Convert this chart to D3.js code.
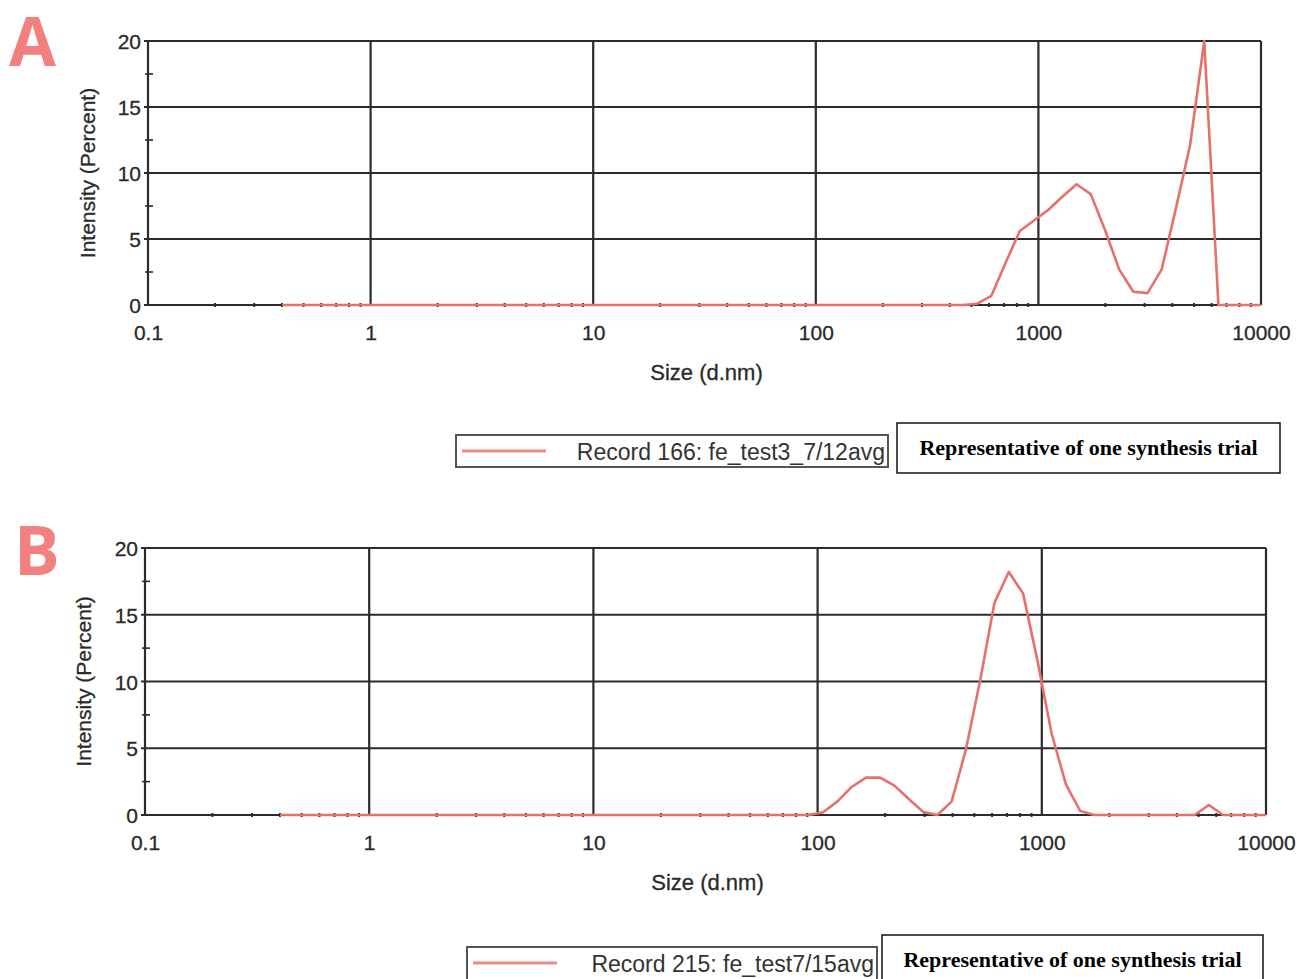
<!DOCTYPE html>
<html>
<head>
<meta charset="utf-8">
<script src="https://cdn.jsdelivr.net/npm/d3@7"></script>
<style>
  body { margin: 0; background: #fff; }
  svg { display: block; }
</style>
</head>
<body>
<svg id="chart"></svg>
<script>
const width = 1299;
const height = 979;

// size classes (d.nm) of the instrument
const sizes = [
  0.4, 0.4632, 0.5365, 0.6213, 0.7195, 0.8332, 0.9649, 1.117, 1.294, 1.499,
  1.736, 2.010, 2.328, 2.696, 3.122, 3.615, 4.187, 4.849, 5.615, 6.503,
  7.531, 8.721, 10.10, 11.70, 13.54, 15.69, 18.17, 21.04, 24.36, 28.21,
  32.67, 37.84, 43.82, 50.75, 58.77, 68.06, 78.82, 91.28, 105.7, 122.4,
  141.8, 164.2, 190.1, 220.2, 255.0, 295.3, 342.0, 396.1, 458.7, 531.2,
  615.1, 712.4, 825.0, 955.4, 1106, 1281, 1484, 1718, 1990, 2305,
  2669, 3091, 3580, 4145, 4801, 5560, 6439, 7456, 8635, 10000
];

// intensity (%) record 166
const intensityA = [
  0, 0, 0, 0, 0, 0, 0, 0, 0, 0,
  0, 0, 0, 0, 0, 0, 0, 0, 0, 0,
  0, 0, 0, 0, 0, 0, 0, 0, 0, 0,
  0, 0, 0, 0, 0, 0, 0, 0, 0, 0,
  0, 0, 0, 0, 0, 0, 0, 0, 0, 0.1,
  0.7, 3.2, 5.6, 6.4, 7.2, 8.2, 9.15, 8.4, 5.7, 2.7,
  1.0, 0.9, 2.7, 7.3, 12.1, 20.0, 0, 0, 0, 0
];

// intensity (%) record 215
const intensityB = [
  0, 0, 0, 0, 0, 0, 0, 0, 0, 0,
  0, 0, 0, 0, 0, 0, 0, 0, 0, 0,
  0, 0, 0, 0, 0, 0, 0, 0, 0, 0,
  0, 0, 0, 0, 0, 0, 0, 0, 0.2, 1.0,
  2.1, 2.8, 2.8, 2.2, 1.2, 0.25, 0, 1.0, 4.9, 10.1,
  15.9, 18.2, 16.6, 11.6, 6.1, 2.3, 0.3, 0, 0, 0,
  0, 0, 0, 0, 0, 0.75, 0, 0, 0, 0
];

const xTicks = [0.1, 1, 10, 100, 1000, 10000];
const yTicks = [0, 5, 10, 15, 20];
const yMinor = [2.5, 7.5, 12.5, 17.5];
const xMinor = [];
[0.1, 1, 10, 100, 1000].forEach(d => {
  for (let k = 2; k <= 9; k++) xMinor.push(d * k);
});

const lineColor = "#e8706a";
const gridColor = "#2b2b2b";
const textColor = "#2a2a2a";
const sans = "'Liberation Sans', Arial, sans-serif";

const svg = d3.select("#chart")
  .attr("width", width)
  .attr("height", height);

svg.append("rect").attr("width", width).attr("height", height).attr("fill", "#fff");

const panels = [
  {
    letter: "A", values: intensityA,
    record: "Record 166: fe_test3_7/12avg",
    left: 148, right: 1261, top: 41, bottom: 305,
    letterX: 9, letterY: 66, yTitleX: 95,
    legend: { x: 456, y: 435, w: 432, h: 32 },
    note: { x: 897, y: 423, w: 383, h: 50 }
  },
  {
    letter: "B", values: intensityB,
    record: "Record 215: fe_test7/15avg",
    left: 145, right: 1266, top: 548, bottom: 815,
    letterX: 14, letterY: 575, yTitleX: 91,
    legend: { x: 467, y: 947, w: 410, h: 40 },
    note: { x: 882, y: 935, w: 381, h: 52 }
  }
];

panels.forEach(p => {
  const g = svg.append("g");

  const x = d3.scaleLog()
    .domain([0.1, 10000])
    .range([p.left, p.right]);

  const y = d3.scaleLinear()
    .domain([0, 20])
    .range([p.bottom, p.top]);

  // horizontal grid
  g.append("g")
    .selectAll("line")
    .data(yTicks)
    .join("line")
    .attr("x1", p.left - 4)
    .attr("x2", p.right)
    .attr("y1", d => y(d))
    .attr("y2", d => y(d))
    .attr("stroke", gridColor)
    .attr("stroke-width", 2.2);

  // vertical grid
  g.append("g")
    .selectAll("line")
    .data(xTicks)
    .join("line")
    .attr("x1", d => x(d))
    .attr("x2", d => x(d))
    .attr("y1", p.top)
    .attr("y2", p.bottom)
    .attr("stroke", gridColor)
    .attr("stroke-width", 2.2);

  // minor ticks
  g.append("g")
    .selectAll("line")
    .data(yMinor)
    .join("line")
    .attr("x1", p.left - 3)
    .attr("x2", p.left + 5)
    .attr("y1", d => y(d))
    .attr("y2", d => y(d))
    .attr("stroke", gridColor)
    .attr("stroke-width", 1.6);

  g.append("g")
    .selectAll("line")
    .data(xMinor)
    .join("line")
    .attr("x1", d => x(d))
    .attr("x2", d => x(d))
    .attr("y1", p.bottom - 2)
    .attr("y2", p.bottom + 2)
    .attr("stroke", gridColor)
    .attr("stroke-width", 2);

  // curve
  const line = d3.line()
    .x((d, i) => x(sizes[i]))
    .y(d => y(d));

  g.append("path")
    .datum(p.values)
    .attr("d", line)
    .attr("fill", "none")
    .attr("stroke", lineColor)
    .attr("stroke-width", 2.6)
    .attr("stroke-linejoin", "round");

  // tick labels
  const xAxis = d3.axisBottom(x)
    .tickValues(xTicks)
    .tickFormat(d => d3.format("")(d))
    .tickSize(0)
    .tickPadding(0);

  const xa = g.append("g")
    .attr("transform", `translate(0,${p.bottom + 28})`)
    .call(xAxis);
  xa.select(".domain").remove();
  xa.selectAll("text")
    .attr("dy", "0.34em")
    .attr("font-family", sans)
    .attr("font-size", "21px")
    .attr("fill", textColor)
    .attr("stroke", textColor)
    .attr("stroke-width", 0.3);

  const yAxis = d3.axisLeft(y)
    .tickValues(yTicks)
    .tickSize(0)
    .tickPadding(0);

  const ya = g.append("g")
    .attr("transform", `translate(${p.left - 7},0)`)
    .call(yAxis);
  ya.select(".domain").remove();
  ya.selectAll("text")
    .attr("dy", "0.36em")
    .attr("font-family", sans)
    .attr("font-size", "21px")
    .attr("fill", textColor)
    .attr("stroke", textColor)
    .attr("stroke-width", 0.3);

  // axis titles
  g.append("text")
    .attr("x", (p.left + p.right) / 2 + 2)
    .attr("y", p.bottom + 75)
    .attr("text-anchor", "middle")
    .attr("font-family", sans)
    .attr("font-size", "22px")
    .attr("fill", textColor)
    .attr("stroke", textColor)
    .attr("stroke-width", 0.3)
    .text("Size (d.nm)");

  g.append("text")
    .attr("transform", `translate(${p.yTitleX},${(p.top + p.bottom) / 2}) rotate(-90)`)
    .attr("text-anchor", "middle")
    .attr("font-family", sans)
    .attr("font-size", "21px")
    .attr("fill", textColor)
    .attr("stroke", textColor)
    .attr("stroke-width", 0.3)
    .text("Intensity (Percent)");

  // panel letter
  g.append("text")
    .attr("x", p.letterX)
    .attr("y", p.letterY)
    .attr("font-family", "'Open Sans', sans-serif")
    .attr("font-weight", "bold")
    .attr("font-size", "68px")
    .attr("fill", "#f2807e")
    .text(p.letter);

  // legend
  const L = p.legend;
  g.append("rect")
    .attr("x", L.x).attr("y", L.y)
    .attr("width", L.w).attr("height", L.h)
    .attr("fill", "#fff")
    .attr("stroke", "#555")
    .attr("stroke-width", 2);
  g.append("line")
    .attr("x1", L.x + 6).attr("x2", L.x + 90)
    .attr("y1", L.y + 16).attr("y2", L.y + 16)
    .attr("stroke", "#ef8a86")
    .attr("stroke-width", 3);
  g.append("text")
    .attr("x", L.x + L.w - 3)
    .attr("y", L.y + 25)
    .attr("text-anchor", "end")
    .attr("font-family", sans)
    .attr("font-size", "23px")
    .attr("fill", "#333")
    .text(p.record);

  const N = p.note;
  g.append("rect")
    .attr("x", N.x).attr("y", N.y)
    .attr("width", N.w).attr("height", N.h)
    .attr("fill", "#fff")
    .attr("stroke", "#111")
    .attr("stroke-width", 1.5);
  g.append("text")
    .attr("x", N.x + N.w / 2)
    .attr("y", N.y + 32)
    .attr("text-anchor", "middle")
    .attr("font-family", "'Liberation Serif', 'Times New Roman', serif")
    .attr("font-weight", "bold")
    .attr("font-size", "22px")
    .attr("fill", "#000")
    .text("Representative of one synthesis trial");
});
</script>
</body>
</html>
